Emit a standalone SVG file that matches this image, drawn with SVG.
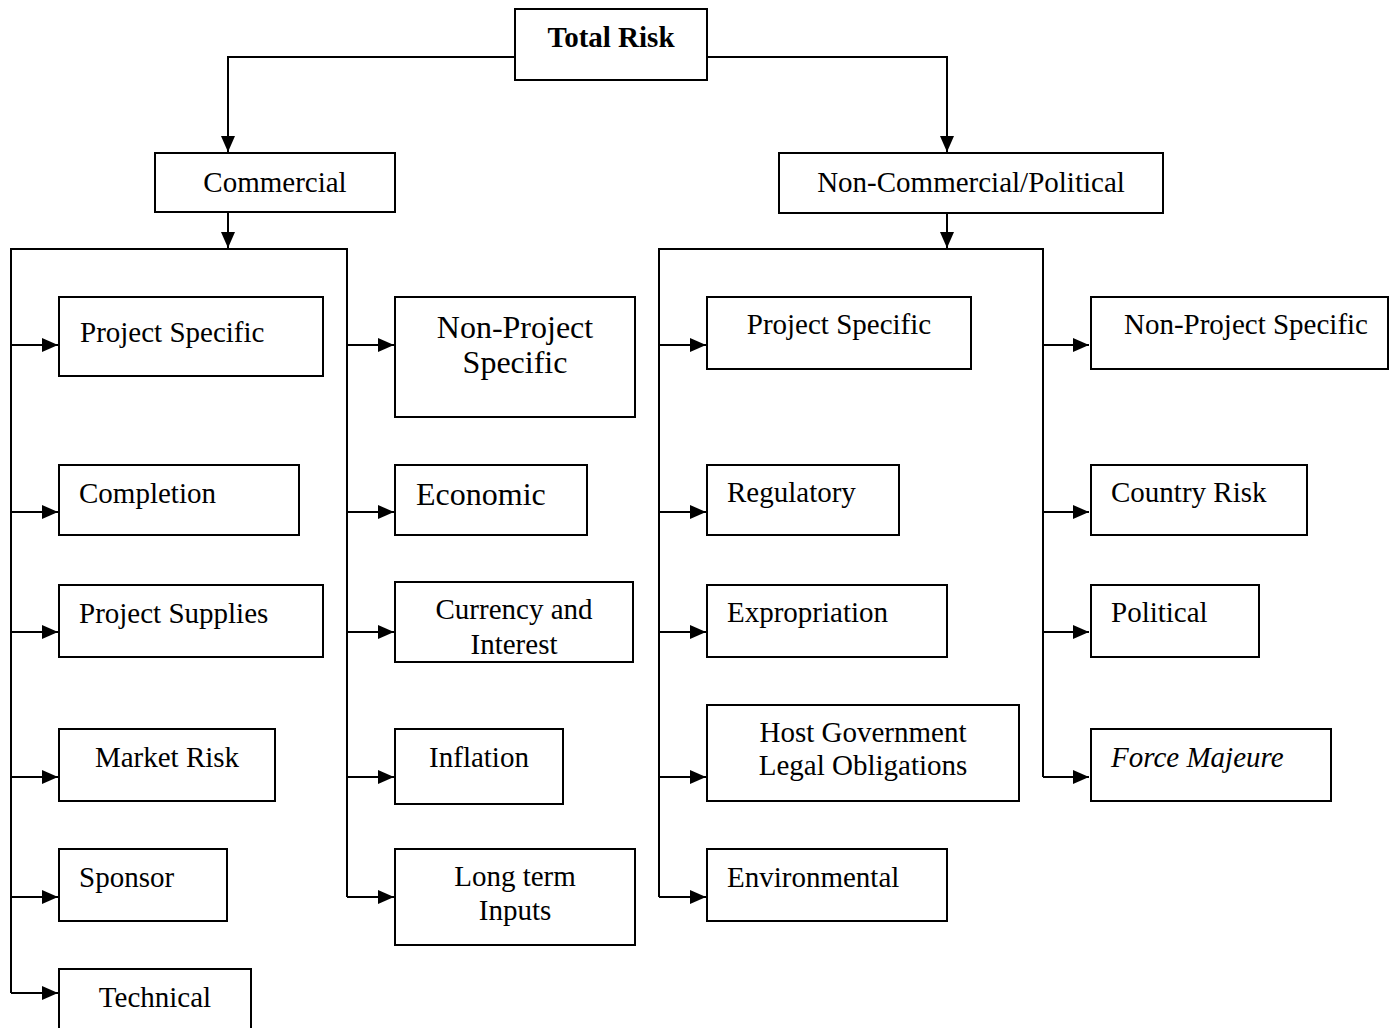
<svg xmlns="http://www.w3.org/2000/svg" width="1389" height="1028" viewBox="0 0 1389 1028">
<style>
  .box { fill: #ffffff; stroke: #000000; stroke-width: 2; }
  .t { font-family: "Liberation Serif", "Times New Roman", serif; font-size: 29px; fill: #000000; }
  .big { font-size: 32px; }
  .c { text-anchor: middle; }
  .b { font-weight: bold; }
  .i { font-style: italic; }
  .conn path { fill: none; stroke: #000000; stroke-width: 2; }
</style>
<defs>
  <marker id="arr" markerUnits="userSpaceOnUse" markerWidth="17" markerHeight="14" refX="16" refY="7" orient="auto">
    <path d="M0,0 L16,7 L0,14 z" fill="#000000"/>
  </marker>
</defs>
<rect width="1389" height="1028" fill="#ffffff"/>

<g class="conn" id="connectors">
  <path d="M515,57 H228 V152" marker-end="url(#arr)"/>
  <path d="M707,57 H947 V152" marker-end="url(#arr)"/>
  <path d="M228,212 V248" marker-end="url(#arr)"/>
  <path d="M947,213 V248" marker-end="url(#arr)"/>
  <path d="M11,993 V249 H347 V897"/>
  <path d="M659,897 V249 H1043 V777"/>
  <path d="M11,345 H58" marker-end="url(#arr)"/>
  <path d="M11,512 H58" marker-end="url(#arr)"/>
  <path d="M11,632 H58" marker-end="url(#arr)"/>
  <path d="M11,777 H58" marker-end="url(#arr)"/>
  <path d="M11,897 H58" marker-end="url(#arr)"/>
  <path d="M11,993 H58" marker-end="url(#arr)"/>
  <path d="M347,345 H394" marker-end="url(#arr)"/>
  <path d="M347,512 H394" marker-end="url(#arr)"/>
  <path d="M347,632 H394" marker-end="url(#arr)"/>
  <path d="M347,777 H394" marker-end="url(#arr)"/>
  <path d="M347,897 H394" marker-end="url(#arr)"/>
  <path d="M659,345 H706" marker-end="url(#arr)"/>
  <path d="M659,512 H706" marker-end="url(#arr)"/>
  <path d="M659,632 H706" marker-end="url(#arr)"/>
  <path d="M659,777 H706" marker-end="url(#arr)"/>
  <path d="M659,897 H706" marker-end="url(#arr)"/>
  <path d="M1043,345 H1089" marker-end="url(#arr)"/>
  <path d="M1043,512 H1089" marker-end="url(#arr)"/>
  <path d="M1043,632 H1089" marker-end="url(#arr)"/>
  <path d="M1043,777 H1089" marker-end="url(#arr)"/>
</g>

<g id="total-risk">
  <rect class="box" x="515" y="9" width="192" height="71"/>
  <text class="t b c" x="611" y="47">Total Risk</text>
</g>
<g id="commercial">
  <rect class="box" x="155" y="153" width="240" height="59"/>
  <text class="t c" x="275" y="192">Commercial</text>
</g>
<g id="non-commercial">
  <rect class="box" x="779" y="153" width="384" height="60"/>
  <text class="t c" x="971" y="192">Non-Commercial/Political</text>
</g>

<g id="c-project-specific">
  <rect class="box" x="59" y="297" width="264" height="79"/>
  <text class="t" x="80" y="342">Project Specific</text>
</g>
<g id="c-completion">
  <rect class="box" x="59" y="465" width="240" height="70"/>
  <text class="t" x="79" y="503">Completion</text>
</g>
<g id="c-project-supplies">
  <rect class="box" x="59" y="585" width="264" height="72"/>
  <text class="t" x="79" y="623">Project Supplies</text>
</g>
<g id="c-market-risk">
  <rect class="box" x="59" y="729" width="216" height="72"/>
  <text class="t c" x="167" y="767">Market Risk</text>
</g>
<g id="c-sponsor">
  <rect class="box" x="59" y="849" width="168" height="72"/>
  <text class="t" x="79" y="887">Sponsor</text>
</g>
<g id="c-technical">
  <rect class="box" x="59" y="969" width="192" height="70"/>
  <text class="t c" x="155" y="1007">Technical</text>
</g>

<g id="c-non-project-specific">
  <rect class="box" x="395" y="297" width="240" height="120"/>
  <text class="t big c" x="515" y="338">Non-Project</text>
  <text class="t big c" x="515" y="373">Specific</text>
</g>
<g id="c-economic">
  <rect class="box" x="395" y="465" width="192" height="70"/>
  <text class="t big" x="416" y="505">Economic</text>
</g>
<g id="c-currency">
  <rect class="box" x="395" y="582" width="238" height="80"/>
  <text class="t c" x="514" y="619">Currency and</text>
  <text class="t c" x="514" y="654">Interest</text>
</g>
<g id="c-inflation">
  <rect class="box" x="395" y="729" width="168" height="75"/>
  <text class="t c" x="479" y="767">Inflation</text>
</g>
<g id="c-long-term">
  <rect class="box" x="395" y="849" width="240" height="96"/>
  <text class="t c" x="515" y="886">Long term</text>
  <text class="t c" x="515" y="920">Inputs</text>
</g>

<g id="n-project-specific">
  <rect class="box" x="707" y="297" width="264" height="72"/>
  <text class="t c" x="839" y="334">Project Specific</text>
</g>
<g id="n-regulatory">
  <rect class="box" x="707" y="465" width="192" height="70"/>
  <text class="t" x="727" y="502">Regulatory</text>
</g>
<g id="n-expropriation">
  <rect class="box" x="707" y="585" width="240" height="72"/>
  <text class="t" x="727" y="622">Expropriation</text>
</g>
<g id="n-host-government">
  <rect class="box" x="707" y="705" width="312" height="96"/>
  <text class="t c" x="863" y="742">Host Government</text>
  <text class="t c" x="863" y="775">Legal Obligations</text>
</g>
<g id="n-environmental">
  <rect class="box" x="707" y="849" width="240" height="72"/>
  <text class="t" x="727" y="887">Environmental</text>
</g>

<g id="n-non-project-specific">
  <rect class="box" x="1091" y="297" width="297" height="72"/>
  <text class="t c" x="1246" y="334">Non-Project Specific</text>
</g>
<g id="n-country-risk">
  <rect class="box" x="1091" y="465" width="216" height="70"/>
  <text class="t" x="1111" y="502">Country Risk</text>
</g>
<g id="n-political">
  <rect class="box" x="1091" y="585" width="168" height="72"/>
  <text class="t" x="1111" y="622">Political</text>
</g>
<g id="n-force-majeure">
  <rect class="box" x="1091" y="729" width="240" height="72"/>
  <text class="t i" x="1111" y="767">Force Majeure</text>
</g>
</svg>
